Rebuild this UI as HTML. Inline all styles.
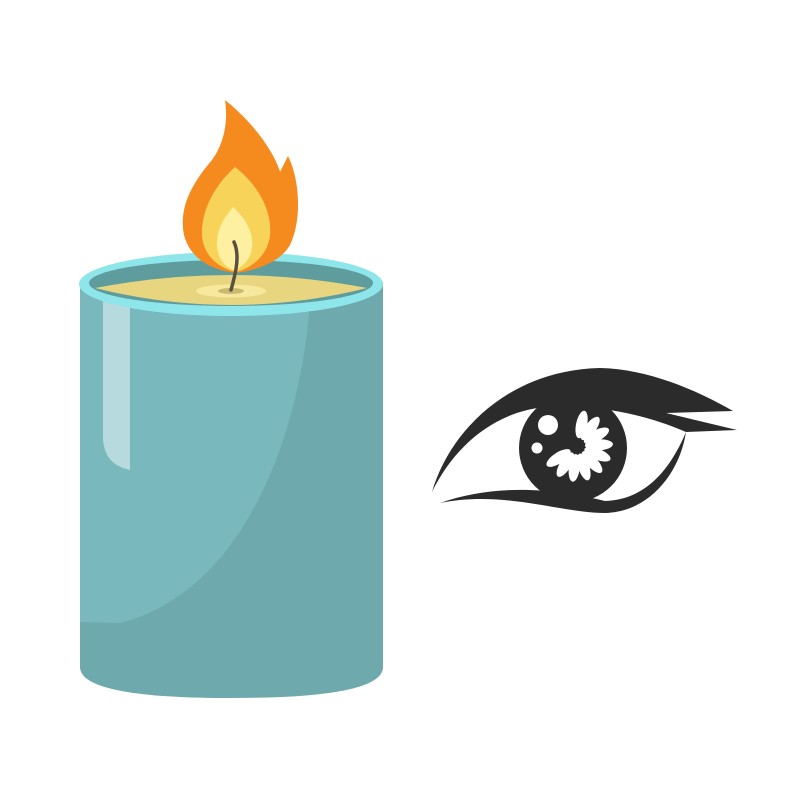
<!DOCTYPE html>
<html><head><style>html,body{margin:0;padding:0;background:#fff;width:800px;height:800px;overflow:hidden}</style></head>
<body>
<svg width="800" height="800" viewBox="0 0 800 800" xmlns="http://www.w3.org/2000/svg">
<rect width="800" height="800" fill="#fff"/>
<!-- candle body -->
<path d="M80,282 L383,282 L383,667 Q383,698 231,698 Q80,698 80,667 Z" fill="#6eaaad"/>
<path d="M80,285 L311,285 C305,420 250,590 120,623 L80,622 Z" fill="#79b8bd"/>
<path d="M103,300 L130,300 L130,470 Q105,465 103,440 Z" fill="#b6dadd"/>
<!-- rim -->
<ellipse cx="231" cy="284" rx="152" ry="32" fill="#8fe6ea"/>
<ellipse cx="231" cy="283" rx="142" ry="23" fill="#5e9c9e"/>
<path d="M95,288 Q231,262 367,288 Q231,322 95,288 Z" fill="#e8d580"/>
<ellipse cx="231" cy="291" rx="35" ry="6.5" fill="#f6e89c"/>
<ellipse cx="231" cy="291" rx="13" ry="3" fill="#c9ba70"/>
<!-- flame -->
<path d="M225,100 C250,120 275,150 282,178 L280,172 L288,156 C300,180 302,220 290,245 C280,262 258,270 236,273 C210,270 190,258 184,235 C178,205 195,180 212,160 C225,142 228,120 225,100 Z" fill="#f58a1f"/>
<path d="M235,167 C258,185 272,210 270,235 C268,255 252,268 236,272 C218,268 203,255 202,235 C201,210 215,185 235,167 Z" fill="#f8d35a"/>
<path d="M233,207 C245,218 254,232 252,248 C250,262 240,268 234,270 C226,268 218,260 217,246 C216,230 224,218 233,207 Z" fill="#fdf0a0"/>
<path d="M234,242 C240,255 236,272 231,290" stroke="#5a5040" stroke-width="3.5" fill="none" stroke-linecap="round"/>
<!-- eye -->
<g fill="#2b2b2b">
<path d="M432,492 C450,430 510,370 600,368 C650,369 700,392 733,411 L666,413 L737,430 L686,432 C640,412 590,404 545,407 C495,412 455,445 432,492 Z"/>
<path d="M686,432 C680,472 650,512 605,513 C560,513 505,490 440,503 C500,482 560,490 605,501 C645,500 670,470 686,432 Z"/>
<circle cx="573" cy="448" r="54"/>
</g>
<g fill="#fff">
<circle cx="548" cy="425" r="10"/>
<circle cx="537" cy="448" r="5.5"/>
<g transform="translate(577,446)">
<ellipse cx="0" cy="-22" rx="5.5" ry="14" transform="rotate(12)"/>
<ellipse cx="0" cy="-22" rx="5.5" ry="14" transform="rotate(37)"/>
<ellipse cx="0" cy="-22" rx="5.5" ry="14" transform="rotate(62)"/>
<ellipse cx="0" cy="-22" rx="5.5" ry="14" transform="rotate(87)"/>
<ellipse cx="0" cy="-22" rx="5.5" ry="14" transform="rotate(112)"/>
<ellipse cx="0" cy="-22" rx="5.5" ry="14" transform="rotate(137)"/>
<ellipse cx="0" cy="-22" rx="5.5" ry="14" transform="rotate(162)"/>
<ellipse cx="0" cy="-22" rx="5.5" ry="14" transform="rotate(187)"/>
<ellipse cx="0" cy="-22" rx="5.5" ry="14" transform="rotate(212)"/>
<ellipse cx="0" cy="-22" rx="5.5" ry="14" transform="rotate(237)"/>
</g>
</g>
</svg>
</body></html>
